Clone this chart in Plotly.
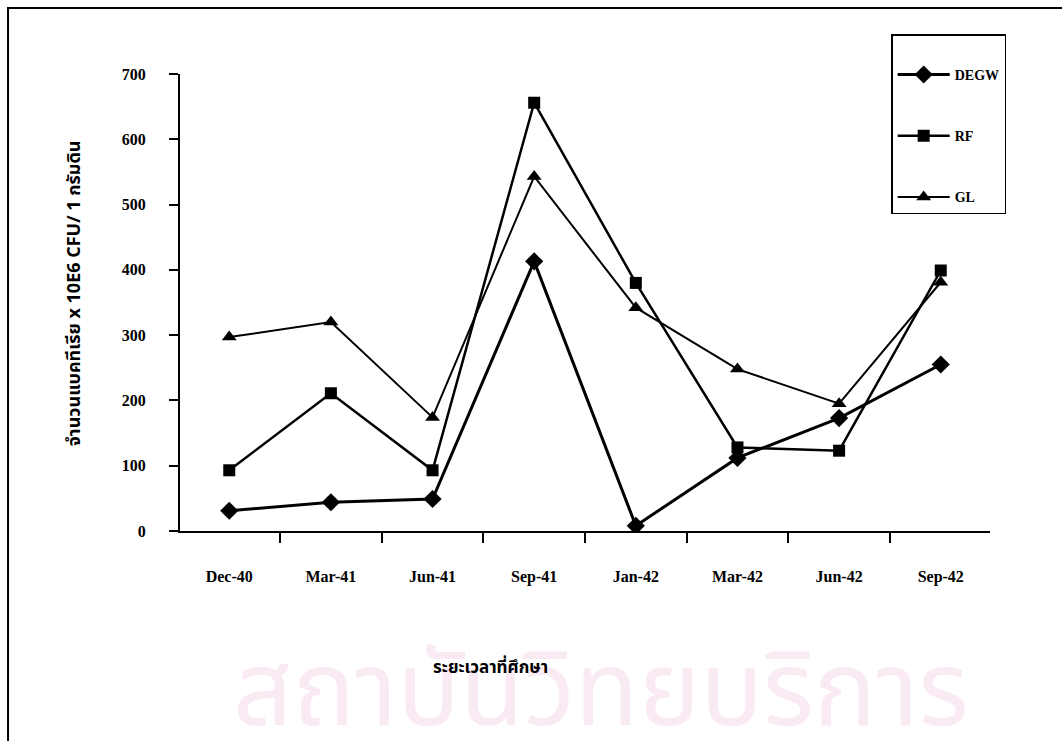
import plotly.graph_objects as go

categories = ["Dec-40", "Mar-41", "Jun-41", "Sep-41", "Jan-42", "Mar-42", "Jun-42", "Sep-42"]
degw = [31, 44, 49, 413, 8, 112, 173, 255]
rf = [93, 211, 93, 656, 380, 128, 123, 399]
gl = [297, 320, 174, 543, 342, 248, 195, 381]
y_ticks = [0, 100, 200, 300, 400, 500, 600, 700]

serif = "Liberation Serif, Times New Roman, serif"
thai = "Noto Sans Thai, Loma, Garuda, Tlwg Typo, Noto Sans, sans-serif"

fig = go.Figure()
fig.add_trace(go.Scatter(x=categories, y=degw, name="DEGW", mode="lines+markers",
                         line=dict(color="black", width=3),
                         marker=dict(symbol="diamond", size=14, color="black")))
fig.add_trace(go.Scatter(x=categories, y=rf, name="RF", mode="lines+markers",
                         line=dict(color="black", width=2.5),
                         marker=dict(symbol="square", size=12, color="black")))
fig.add_trace(go.Scatter(x=categories, y=gl, name="GL", mode="lines+markers",
                         line=dict(color="black", width=2),
                         marker=dict(symbol="triangle-up", size=13, color="black")))
for i, tr in enumerate(fig.data):
    tr.legendgroup = "g%d" % i

fig.update_layout(
    width=1062, height=741,
    margin=dict(l=180, r=72, t=74, b=210),
    paper_bgcolor="white", plot_bgcolor="rgba(0,0,0,0)",
    showlegend=True,
    legend=dict(x=0.878, y=1.0875, xanchor="left", yanchor="top",
                bordercolor="black", borderwidth=1.5, bgcolor="white",
                font=dict(family=serif, size=14, color="black", weight="bold"),
                title=dict(text=" ", font=dict(size=18)),
                tracegroupgap=40, itemwidth=52,
                traceorder="grouped"),
    xaxis=dict(type="category", showline=True, linecolor="black", linewidth=2,
               ticks="outside", tickson="boundaries", ticklen=10, tickcolor="black",
               tickwidth=1.5, showgrid=False, zeroline=False,
               ticklabelstandoff=30,
               tickfont=dict(family=serif, size=16, color="black", weight="bold")),
    yaxis=dict(range=[0, 700], tickvals=y_ticks, showline=True, linecolor="black",
               linewidth=2, ticks="outside", ticklen=9, tickcolor="black", tickwidth=1.5,
               showgrid=False, zeroline=False, ticklabelstandoff=20,
               tickfont=dict(family=serif, size=16, color="black", weight="bold")),
    font=dict(family=serif, color="black"),
)

# watermark text
fig.add_annotation(text="สถาบันวิทยบริการ", xref="paper", yref="paper",
                   x=0.52, y=-0.355, xanchor="center", yanchor="middle",
                   showarrow=False, font=dict(family=thai, size=104, color="#f9eaf3"))

fig.add_annotation(text="ระยะเวลาที่ศึกษา", xref="paper", yref="paper",
                   x=0.383, y=-0.30, xanchor="center", yanchor="middle",
                   showarrow=False, font=dict(family=thai, size=17, color="black", weight="bold"))
fig.add_annotation(text="จำนวนแบคทีเรีย x 10E6 CFU/ 1 กรัมดิน", xref="paper", yref="paper",
                   x=-0.131, y=0.52, xanchor="center", yanchor="middle", textangle=-90,
                   showarrow=False, font=dict(family=thai, size=18, color="black", weight="bold"))

# outer frame (top and left visible)
fig.add_shape(type="rect", xref="paper", yref="paper", x0=-0.2123, x1=1.3, y0=-0.6, y1=1.1444,
              line=dict(color="black", width=2), layer="below")

fig.write_html("out.html")
